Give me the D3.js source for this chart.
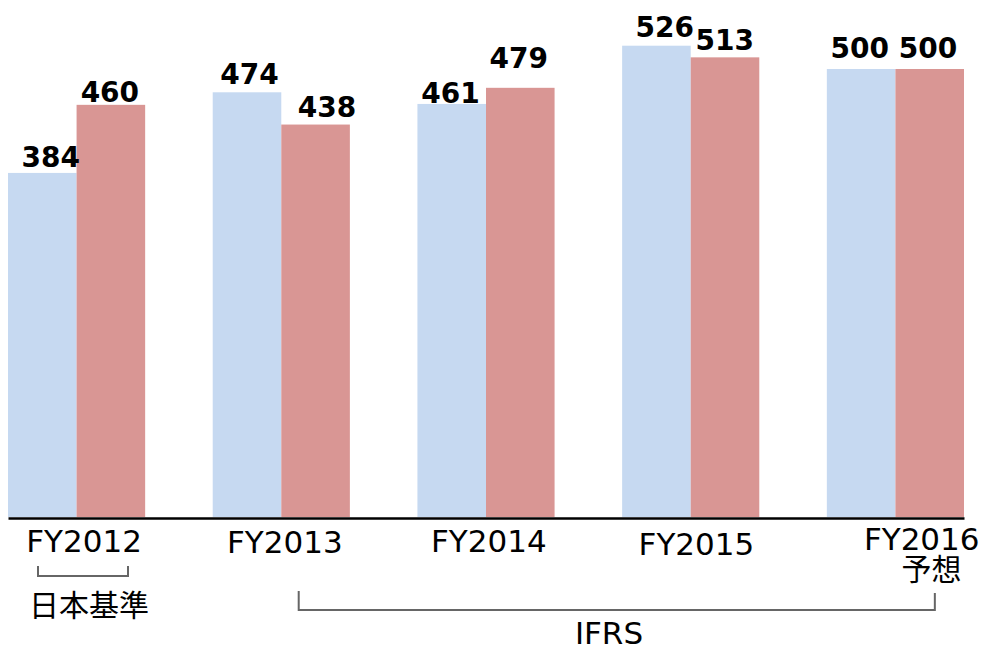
<!DOCTYPE html>
<html>
<head>
<meta charset="utf-8">
<script src="https://cdn.jsdelivr.net/npm/d3@7"></script>
<style>
    body { margin: 0; background: #fff; }
    svg { display: block; }
    .num { font-family: 'DejaVu Sans', Verdana, sans-serif; font-weight: bold; font-size: 28px; fill: #000; }
    .cat { font-family: 'DejaVu Sans', Verdana, sans-serif; font-size: 31px; fill: #000; }
    .jp { font-family: 'Noto Sans CJK JP', sans-serif; font-size: 30px; fill: #000; }
</style>
</head>
<body>
<div id="chart"></div>
<script>

// data
var years = ['FY2012', 'FY2013', 'FY2014', 'FY2015', 'FY2016'];
var yearNotes = ['', '', '', '', '予想'];
var seriesA = [384, 474, 461, 526, 500];
var seriesB = [460, 438, 479, 513, 500];
var standards = ['日本基準', 'IFRS'];
var standardFrom = ['FY2012', 'FY2013'];
var standardTo = ['FY2012', 'FY2016'];

// hand placement of labels, as in the original slide
var numShift = [[8.5, -1], [2.5, 11.5], [-1.2, -1.5], [8.3, -0.2], [-1.4, -1.6]];
var numGap = [[6, 3], [8.7, 8], [1, 20], [9, 7], [11, 11]];
var catShift = [7.5, 3.5, 2.8, 5.7, 26.3];
var catBase = [552, 553, 551.5, 555, 550];

var width = 984, height = 646;
var colors = ['#c6d9f1', '#d99694'];

var svg = d3.select('#chart').append('svg')
    .attr('width', width)
    .attr('height', height);

var x = d3.scaleBand()
    .domain(years)
    .range([8, 964])
    .paddingInner(0.33)
    .paddingOuter(0);

var xSub = d3.scaleBand()
    .domain([0, 1])
    .range([0, x.bandwidth()]);

var y = d3.scaleLinear()
    .domain([0, 526])
    .range([517, 45.7]);

var rows = years.map(function (yr, i) {
    return {year: yr, i: i, values: [seriesA[i], seriesB[i]]};
});

var groups = svg.append('g').selectAll('.grp')
    .data(rows)
    .enter().append('g')
    .attr('class', 'grp')
    .attr('transform', function (d) { return 'translate(' + x(d.year) + ',0)'; });

groups.selectAll('rect')
    .data(function (d) {
        return d.values.map(function (v, k) { return {v: v, k: k, i: d.i}; });
    })
    .enter().append('rect')
    .attr('x', function (d) { return xSub(d.k); })
    .attr('y', function (d) { return y(d.v); })
    .attr('width', xSub.bandwidth())
    .attr('height', function (d) { return y(0) - y(d.v); })
    .style('fill', function (d) { return colors[d.k]; });

groups.selectAll('text.num')
    .data(function (d) {
        return d.values.map(function (v, k) { return {v: v, k: k, i: d.i}; });
    })
    .enter().append('text')
    .attr('class', 'num')
    .attr('text-anchor', 'middle')
    .attr('x', function (d) { return xSub(d.k) + xSub.bandwidth() / 2 + numShift[d.i][d.k]; })
    .attr('y', function (d) { return y(d.v) - numGap[d.i][d.k]; })
    .text(function (d) { return d.v; });

// axis line + category labels
var xAxis = d3.axisBottom(x).tickSize(0).tickSizeOuter(0).tickFormat('');
var gX = svg.append('g')
    .attr('transform', 'translate(0,518)')
    .call(xAxis);
gX.select('.domain').attr('stroke', '#000').attr('stroke-width', 2.5);

svg.append('g').selectAll('text.cat')
    .data(years)
    .enter().append('text')
    .attr('class', 'cat')
    .attr('text-anchor', 'middle')
    .attr('x', function (d, i) { return x(d) + x.bandwidth() / 2 + catShift[i]; })
    .attr('y', function (d, i) { return catBase[i]; })
    .text(function (d) { return d; });

svg.append('g').selectAll('text.note')
    .data(years.filter(function (d, i) { return yearNotes[i]; }))
    .enter().append('text')
    .attr('class', 'jp')
    .attr('text-anchor', 'middle')
    .attr('x', function (d) { return x(d) + x.bandwidth() / 2 + 36; })
    .attr('y', 580)
    .text(function (d) { return yearNotes[years.indexOf(d)]; });

// brackets for accounting standards
var brk = [
    {x1: x(standardFrom[0]) + 30, x2: x(standardTo[0]) + 120, top1: 566, top2: 566, bottom: 576,
        tx: x(standardFrom[0]) + 81, ty: 616, cls: 'jp'},
    {x1: x(standardFrom[1]) + 86, x2: x(standardTo[1]) + 108, top1: 591, top2: 593, bottom: 610,
        tx: 609, ty: 644, cls: 'cat'}
];

brk.forEach(function (b, i) {
    svg.append('path')
        .attr('d', 'M' + b.x1 + ',' + b.top1 + 'V' + b.bottom + 'H' + b.x2 + 'V' + b.top2)
        .attr('fill', 'none')
        .attr('stroke', '#666')
        .attr('stroke-width', 2);
    svg.append('text')
        .attr('class', b.cls)
        .attr('text-anchor', 'middle')
        .attr('x', b.tx)
        .attr('y', b.ty)
        .text(standards[i]);
});

</script>
</body>
</html>
